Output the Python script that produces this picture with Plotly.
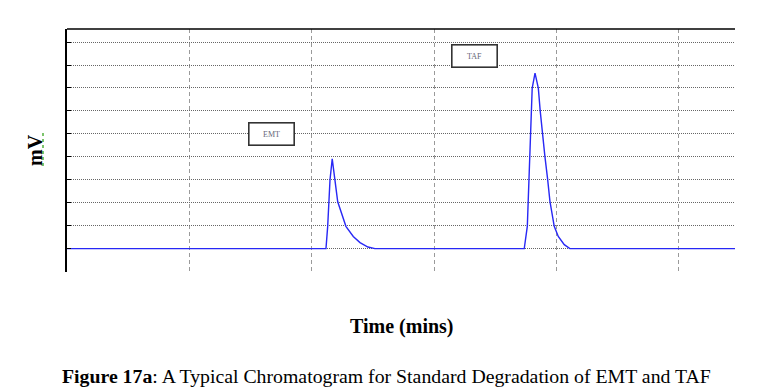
import plotly.graph_objects as go

# Chromatogram trace (time in minutes, signal in mV grid units)
time_min = [0.0, 2.116, 2.130, 2.143, 2.149, 2.167, 2.190, 2.212, 2.279, 2.339, 2.394, 2.459, 2.516,
            3.736, 3.761, 3.769, 3.775, 3.780, 3.785, 3.793, 3.801, 3.824, 3.851, 3.867, 3.883,
            3.905, 3.927, 3.946, 3.981, 4.014, 4.063, 4.109, 5.458]
signal_mv = [0.0, 0.0, 0.97, 2.04, 3.0, 3.91, 3.0, 2.04, 0.97, 0.53, 0.26, 0.07, 0.0,
             0.0, 0.97, 2.06, 3.03, 4.01, 4.99, 5.97, 6.99, 7.65, 6.99, 5.97, 4.99,
             4.01, 3.03, 2.06, 0.97, 0.53, 0.17, 0.0, 0.0]

peak_labels = ["EMT", "TAF"]
label_x = [1.667, 3.329]
label_y = [5.0, 8.41]

serif = "Liberation Serif, Times New Roman, serif"

fig = go.Figure()
fig.add_trace(go.Scatter(x=time_min, y=signal_mv, mode="lines",
                         line=dict(color="rgb(40,40,245)", width=1.4),
                         hoverinfo="skip", showlegend=False))

for name, lx, ly in zip(peak_labels, label_x, label_y):
    fig.add_annotation(x=lx, y=ly, xref="x", yref="y", text=name, showarrow=False,
                       font=dict(family=serif, size=8, color="#667"),
                       width=42, height=19, bgcolor="white",
                       bordercolor="#333", borderwidth=1.6)

fig.add_annotation(x=(402 - 67) / 668, y=(272 - 326) / 243, xref="paper", yref="paper",
                   text="<b>Time (mins)</b>", showarrow=False, xanchor="center", yanchor="middle",
                   font=dict(family=serif, size=20, color="black"))
fig.add_annotation(x=(35 - 67) / 668, y=(272 - 150) / 243, xref="paper", yref="paper",
                   text="<b>mV</b>", showarrow=False, textangle=-90, xanchor="center", yanchor="middle",
                   font=dict(family=serif, size=20, color="black"))
fig.add_annotation(x=(60 - 67) / 668, y=(272 - 376) / 243, xref="paper", yref="paper",
                   text="<b>Figure 17a</b>: A Typical Chromatogram for Standard Degradation of EMT and TAF",
                   showarrow=False, xanchor="left", yanchor="middle",
                   font=dict(family=serif, size=19.8, color="black"))

# top border line and spell-check squiggle under mV
fig.add_shape(type="line", xref="paper", yref="paper", x0=0, x1=1, y0=1, y1=1,
              line=dict(color="black", width=1.6))
fig.add_shape(type="line", xref="paper", yref="paper", x0=(43 - 67) / 668, x1=(43 - 67) / 668,
              y0=(272 - 133) / 243, y1=(272 - 166) / 243,
              line=dict(color="#7cc46c", width=2, dash="dot"))

fig.update_xaxes(range=[0, 5.458], tick0=0, dtick=1, showticklabels=False, ticks="",
                 showgrid=True, gridcolor="#9a9a9a", griddash="4px,3px", gridwidth=1.4,
                 zeroline=False, showline=False)
fig.update_yaxes(range=[-1.02, 9.57], tick0=-1, dtick=1, showticklabels=False,
                 ticks="inside", ticklen=4, tickcolor="black",
                 showgrid=True, gridcolor="#666", griddash="1px,1px", gridwidth=1,
                 zeroline=False, showline=True, linecolor="black", linewidth=1.6)

fig.update_layout(width=762, height=391, margin=dict(l=67, r=27, t=29, b=119),
                  plot_bgcolor="white", paper_bgcolor="white")

# remove the default 8px page margin so the figure fills the window exactly
fig.write_html("out.html", config={"displayModeBar": False},
               post_script="document.body.style.margin='0';document.body.style.overflow='hidden';")
